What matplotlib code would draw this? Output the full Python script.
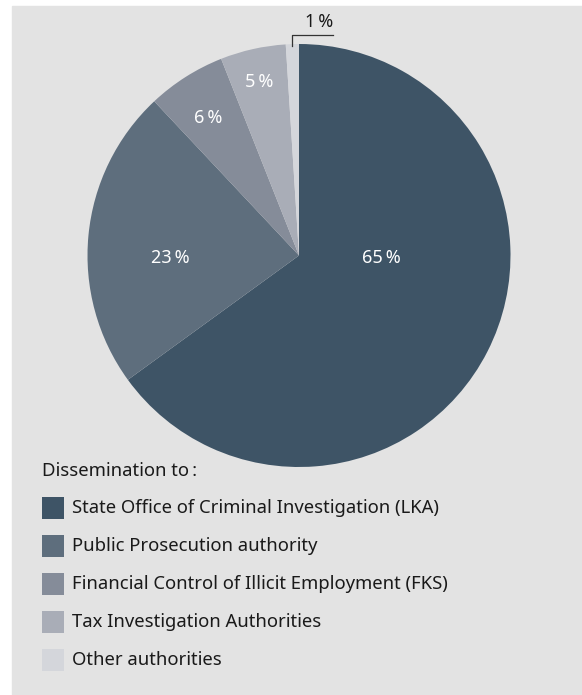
import numpy as np
import matplotlib.pyplot as plt
from matplotlib.patches import Rectangle

plt.rcParams['font.family'] = ['Noto Sans', 'DejaVu Sans']

# Anteile der Abgaben an die Behörden (in %)
categories = ['State Office of Criminal Investigation (LKA)',
              'Public Prosecution authority',
              'Financial Control of Illicit Employment (FKS)',
              'Tax Investigation Authorities',
              'Other authorities']
shares = [65, 23, 6, 5, 1]
colors = ['#3e5466', '#5e6e7d', '#858c99', '#a9adb7', '#d4d6db']
legend_title = 'Dissemination to\u2009:'

W, H = 582, 695
fig = plt.figure(figsize=(W / 100, H / 100), dpi=100, facecolor='white')
ax = fig.add_axes([0, 0, 1, 1])

# grauer Hintergrund
ax.add_patch(Rectangle((12, 0), W - 12, H - 6, color='#e3e3e3', zorder=0))

cx, cy, R = 299, H - 255.5, 211.5
wedges, _ = ax.pie(shares, colors=colors, startangle=90, counterclock=False,
                   center=(cx, cy), radius=R,
                   wedgeprops=dict(linewidth=0))

# Beschriftungen innerhalb der Segmente (Winkel, relativer Radius)
label_pos = [(-2, 0.39), (181, 0.61), (123.5, 0.78), (103, 0.84)]
for v, (ang, r) in zip(shares[:4], label_pos):
    a = np.deg2rad(ang)
    ax.text(cx + r * R * np.cos(a), cy + r * R * np.sin(a), f'{v}\u2009%',
            color='white', fontsize=13, ha='center', va='center')

# kleines Segment: Beschriftung außerhalb mit Winkellinie
w = wedges[-1]
a = np.deg2rad((w.theta1 + w.theta2) / 2)
x0 = cx + R * np.cos(a)
ax.plot([x0, x0, x0 + 41], [H - 46, H - 35, H - 35], color='#333333', lw=0.9)
ax.text(x0 + 27, H - 22, f'{shares[-1]}\u2009%', color='#1a1a1a',
        fontsize=13, ha='center', va='center')

# Legende
ax.text(42, H - 471, legend_title, fontsize=13.3, color='#1a1a1a',
        ha='left', va='center')
for i, (name, c) in enumerate(zip(categories, colors)):
    y = H - (508 + 38 * i)
    ax.add_patch(Rectangle((42, y - 11), 22, 22, color=c, lw=0))
    ax.text(72, y, name, fontsize=13.3, color='#1a1a1a', ha='left', va='center')

ax.set_xlim(0, W)
ax.set_ylim(0, H)
ax.set_aspect('auto')
ax.axis('off')

fig.savefig('out.png', dpi=100, facecolor='white')
